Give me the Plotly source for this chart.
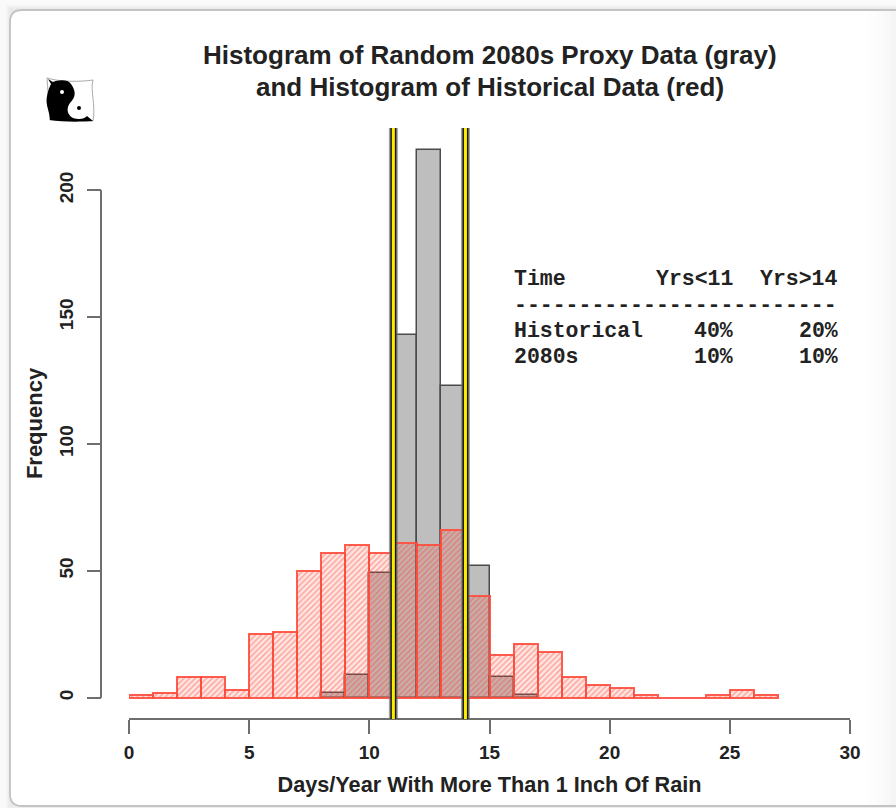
import plotly.graph_objects as go

W, H = 896, 808
bin_left = list(range(0, 27))
gray_bins = [8, 9, 10, 11, 12, 13, 14, 15, 16]
gray_counts = [2, 9, 49, 143, 216, 123, 52, 8, 1]
red_counts = [1, 2, 8, 8, 3, 25, 26, 50, 57, 60, 57, 61, 60, 66, 40, 17, 21, 18, 8, 5, 4, 1, 0, 0, 1, 3, 1]
x_ticks = [0, 5, 10, 15, 20, 25, 30]
y_ticks = [0, 50, 100, 150, 200]
thresholds = [11, 14]
table_rows = [["Time", "Yrs<11", "Yrs>14"], ["Historical", "40%", "20%"], ["2080s", "10%", "10%"]]
title_lines = ["Histogram of Random 2080s Proxy Data (gray)", "and Histogram of Historical Data (red)"]

def px(x): return x / W
def py(y): return 1 - y / H
def path(s):
    out = []
    for tok in s.split():
        if "," in tok:
            a, b = tok.split(",")
            out.append(f"{px(float(a)):.5f},{py(float(b)):.5f}")
        else:
            out.append(tok)
    return " ".join(out)

fig = go.Figure()
fig.add_bar(x=[b + 0.5 for b in gray_bins], y=gray_counts, width=1,
            marker=dict(color="rgb(190,190,190)", line=dict(color="rgb(75,75,75)", width=1.5)),
            showlegend=False)
fig.add_bar(x=[b + 0.5 for b in bin_left], y=red_counts, width=1,
            marker=dict(color="rgba(255,70,50,0.2)", line=dict(color="rgba(255,75,60,0.9)", width=2),
                        pattern=dict(shape="/", size=4, solidity=0.5, fgcolor="rgba(250,70,50,0.75)",
                                     bgcolor="rgba(255,70,50,0.1)")),
            showlegend=False)

shapes = []
for grow, col in [(5, "rgba(0,0,0,0.012)"), (3, "rgba(0,0,0,0.02)"), (1.5, "rgba(0,0,0,0.03)")]:
    shapes.append(dict(type="rect", xref="paper", yref="paper", x0=px(10 - grow), x1=px(W + 40), y0=py(9 - grow), y1=py(806 + grow),
                       fillcolor=col, line_width=0, layer="below"))
shapes.append(dict(type="path", xref="paper", yref="paper", layer="below", fillcolor="white",
                   line=dict(color="rgb(195,195,195)", width=1.8),
                   path=path("M 10,22 Q 10,10 22,10 L 940,10 L 940,806 L 22,806 Q 10,806 10,794 Z")))
# soft fade along the right edge of the card
for x0, col in [(868, "rgba(0,0,0,0.006)"), (876, "rgba(0,0,0,0.008)"), (884, "rgba(0,0,0,0.01)"), (890, "rgba(0,0,0,0.012)")]:
    shapes.append(dict(type="rect", xref="paper", yref="paper", x0=px(x0), x1=1, y0=py(805), y1=py(11),
                       fillcolor=col, line_width=0, layer="below"))
shapes.append(dict(type="path", xref="paper", yref="paper", layer="above", fillcolor="white",
                   line=dict(color="rgb(170,170,170)", width=1),
                   path=path("M 47,78 C 60,82 80,82 93,80 C 90,90 96,105 93,121 C 80,120 60,120 50,120 Z")))
shapes.append(dict(type="path", xref="paper", yref="paper", layer="above", fillcolor="black", line_width=0,
                   path=path("M 48,79 L 53,82 C 58,80 68,79 71,84 C 77,92 75,98 70,103 C 66,108 67,115 73,118 C 80,120 84,119 87,116 L 93,121 C 80,122 62,122 50,120 C 50,112 45,105 47,96 C 48,90 50,86 51,84 Z")))
shapes.append(dict(type="circle", xref="paper", yref="paper", layer="above", fillcolor="white", line_width=0,
                   x0=px(60), x1=px(64), y0=py(90), y1=py(94)))
shapes.append(dict(type="circle", xref="paper", yref="paper", layer="above", fillcolor="black", line_width=0,
                   x0=px(77), x1=px(81), y0=py(106), y1=py(110)))
shapes.append(dict(type="line", xref="paper", yref="y", x0=px(101), x1=px(101), y0=y_ticks[0], y1=y_ticks[-1],
                   line=dict(color="rgb(110,110,110)", width=2), layer="above"))
for t in thresholds:
    for col, w in [("rgba(120,120,120,0.7)", 9), ("rgb(25,25,15)", 6), ("rgb(250,235,0)", 3)]:
        shapes.append(dict(type="line", xref="x", yref="paper", x0=t, x1=t, y0=py(719), y1=py(128),
                           line=dict(color=col, width=w), layer="above"))

ann = []
for line, y in zip(title_lines, [55, 87]):
    ann.append(dict(text=f"<b>{line}</b>", xref="paper", yref="paper", x=px(490), y=py(y), xanchor="center", yanchor="middle",
                    showarrow=False, font=dict(family="Liberation Sans", size=26, color="#222")))
mono = dict(family="Liberation Mono", size=21.5, color="#222")
col_x = [(512, "left"), (735, "right"), (840, "right")]
for row, y in zip(table_rows, [279, 331, 357]):
    for cell, (x, anchor) in zip(row, col_x):
        ann.append(dict(text=f"<b>{cell}</b>", xref="paper", yref="paper", x=px(x), y=py(y), xanchor=anchor, yanchor="middle",
                        showarrow=False, font=mono))
ann.append(dict(text="<b>" + "-" * 25 + "</b>", xref="paper", yref="paper", x=px(512), y=py(305), xanchor="left", yanchor="middle",
                showarrow=False, font=mono))

fig.update_layout(
    width=W, height=H, margin=dict(l=0, r=0, t=0, b=0, autoexpand=False), autosize=False,
    paper_bgcolor="rgb(250,250,250)", plot_bgcolor="rgba(0,0,0,0)", barmode="overlay", bargap=0,
    font=dict(family="Liberation Sans", color="#222"), shapes=shapes, annotations=ann,
    xaxis=dict(domain=[px(129), px(850)], range=[0, 30], anchor="free", position=py(719), tickvals=x_ticks,
               ticks="outside", ticklen=14, tickwidth=2, tickcolor="rgb(110,110,110)", showline=True, linewidth=2,
               linecolor="rgb(110,110,110)", showgrid=False, zeroline=False, ticklabelstandoff=2,
               tickfont=dict(size=19, family="Liberation Sans", weight="bold", color="#222"),
               title=dict(text="<b>Days/Year With More Than 1 Inch Of Rain</b>", font=dict(size=21.7), standoff=14)),
    yaxis=dict(domain=[py(719), py(128)], range=[(697.7 - 719) / 2.537, (697.7 - 128) / 2.537], anchor="free", position=px(101), tickvals=y_ticks,
               ticks="outside", ticklen=14, tickwidth=2, tickcolor="rgb(110,110,110)", showline=False, showgrid=False,
               zeroline=False, tickangle=-90, ticklabelstandoff=6,
               tickfont=dict(size=19, family="Liberation Sans", weight="bold", color="#222"),
               title=dict(text="<b>Frequency</b>", font=dict(size=22), standoff=6)),
)
fig.write_html("out.html", config=dict(displayModeBar=False),
               post_script="document.body.style.margin='0';document.body.style.overflow='hidden';")
